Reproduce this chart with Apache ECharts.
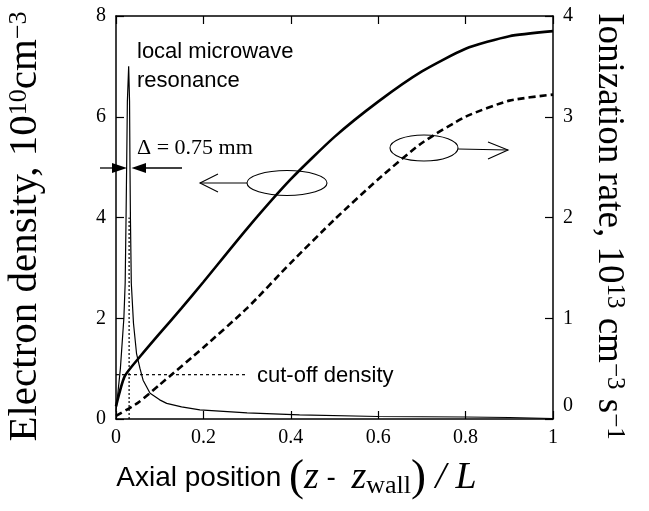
<!DOCTYPE html>
<html>
<head>
<meta charset="utf-8">
<script src="https://cdn.jsdelivr.net/npm/echarts@6/dist/echarts.min.js"></script>
<style>
html, body { margin: 0; padding: 0; background: #fff; }
#chart { width: 649px; height: 511px; }
</style>
</head>
<body>
<div id="chart"></div>
<script>
// electron density (left axis, thick solid)
const densityX = [0, 0.02, 0.055, 0.1, 0.15, 0.2, 0.3, 0.4, 0.5, 0.6, 0.7, 0.8, 0.9, 1.0];
const densityY = [0.25, 0.85, 1.24, 1.7, 2.2, 2.72, 3.78, 4.76, 5.6, 6.3, 6.9, 7.35, 7.6, 7.7];

// ionization rate (right axis, thick dashed)
const ionX = [0, 0.05, 0.1, 0.2, 0.3, 0.4, 0.5, 0.6, 0.7, 0.8, 0.9, 1.0];
const ionY = [0.03, 0.16, 0.34, 0.71, 1.1, 1.55, 1.98, 2.38, 2.74, 3.0, 3.16, 3.22];

// local microwave resonance (left axis, thin solid)
const resX = [0, 0.01, 0.018, 0.021, 0.023, 0.025, 0.026, 0.029, 0.031, 0.032, 0.033, 0.035, 0.04, 0.047, 0.055, 0.062, 0.078, 0.1, 0.116, 0.15, 0.192, 0.3, 0.42, 0.6, 0.8, 0.9, 1.0];
const resY = [0.15, 1.0, 2.0, 2.7, 4.0, 5.5, 6.3, 7.0, 6.3, 5.0, 4.0, 2.7, 1.9, 1.3, 1.0, 0.77, 0.51, 0.38, 0.31, 0.24, 0.18, 0.12, 0.08, 0.05, 0.04, 0.03, 0.01];

// cut-off density level and resonance marker
const cutoffX = [0, 0.3];
const cutoffY = [0.88, 0.88];
const markerX = [0.03, 0.03];
const markerY = [0, 4.0];

const xTicks = [0, 0.2, 0.4, 0.6, 0.8, 1];
const leftTicks = [0, 2, 4, 6, 8];
const rightTicks = [0, 1, 2, 3, 4];

const pairs = (xs, ys) => xs.map((x, i) => [x, ys[i]]);

const serif = 'Liberation Serif';
const sans = 'Liberation Sans';
const black = '#000';

const chart = echarts.init(document.getElementById('chart'));

const frameLine = { onZero: false, lineStyle: { color: black, width: 1.5 } };
const inTick = { show: true, inside: true, length: 8, lineStyle: { color: black, width: 1.2 } };

const option = {
  animation: false,
  backgroundColor: '#fff',
  grid: { left: 116, right: 96, top: 16, bottom: 92, outerBoundsMode: 'none', containLabel: false },
  xAxis: [
    {
      type: 'value', min: 0, max: 1, interval: 0.2,
      axisLine: frameLine,
      axisTick: inTick,
      splitLine: { show: false },
      axisLabel: { color: black, fontFamily: serif, fontSize: 20, margin: 9,
        formatter: v => xTicks.includes(+v.toFixed(1)) ? String(+v.toFixed(1)) : '' },
      name: '{a|Axial position }{p|(}{i|z}{a| -  }{i|z}{sub|wall}{p|)}{i| / L}',
      nameLocation: 'middle', nameGap: 37,
      nameTextStyle: {
        padding: [0, 76, 0, 0],
        rich: {
          a: { fontFamily: sans, fontSize: 28, color: black },
          p: { fontFamily: serif, fontSize: 45, color: black },
          i: { fontFamily: serif, fontStyle: 'italic', fontSize: 38, color: black },
          sub: { fontFamily: serif, fontSize: 26, color: black, padding: [16, 0, 0, 0] }
        }
      }
    },
    {
      type: 'value', min: 0, max: 1, interval: 0.2, position: 'top',
      axisLine: frameLine,
      axisTick: inTick,
      axisLabel: { show: false },
      splitLine: { show: false }
    }
  ],
  yAxis: [
    {
      type: 'value', min: 0, max: 8, interval: 2,
      axisLine: Object.assign({ show: true }, frameLine),
      axisTick: inTick,
      splitLine: { show: false },
      axisLabel: { color: black, fontFamily: serif, fontSize: 20, margin: 10,
        formatter: v => leftTicks.includes(v) ? String(v) : '' },
      name: '{m|Electron density, 10}{s|10}{m|cm}{s2|\u22123}',
      nameLocation: 'middle', nameRotate: 90, nameGap: 70,
      nameTextStyle: {
        padding: [0, 18, 0, 0],
        rich: {
          m: { fontFamily: serif, fontSize: 41, lineHeight: 40, color: black, verticalAlign: 'bottom' },
          s: { fontFamily: serif, fontSize: 26, lineHeight: 26, color: black, verticalAlign: 'top', padding: [0, 0, 18, 0] },
          s2: { fontFamily: serif, fontSize: 26, lineHeight: 26, color: black, verticalAlign: 'top', padding: [0, 0, 24, 0] }
        }
      }
    },
    {
      type: 'value', min: 0, max: 4, interval: 1, position: 'right',
      axisLine: Object.assign({ show: true }, frameLine),
      axisTick: inTick,
      splitLine: { show: false },
      axisLabel: { color: black, fontFamily: serif, fontSize: 20, margin: 10,
        formatter: v => v === 0 ? '{up|0}' : (rightTicks.includes(v) ? String(v) : ''),
        rich: { up: { fontFamily: serif, fontSize: 20, color: black, padding: [0, 0, 26, 0] } } },
      name: '{m|Ionization rate, 10}{s|13}{m| cm}{s|\u22123}{m| s}{s|\u22121}',
      nameLocation: 'middle', nameRotate: -90, nameGap: 33,
      nameTextStyle: {
        padding: [0, 0, 0, 18],
        rich: {
          m: { fontFamily: serif, fontSize: 37, lineHeight: 37, color: black, verticalAlign: 'bottom' },
          s: { fontFamily: serif, fontSize: 25, lineHeight: 25, color: black, verticalAlign: 'top', padding: [0, 0, 18, 0] }
        }
      }
    }
  ],
  series: [
    {
      name: 'Electron density', type: 'line', xAxisIndex: 0, yAxisIndex: 0,
      data: pairs(densityX, densityY), showSymbol: false, symbol: 'none', smooth: 0.2,
      lineStyle: { color: black, width: 2.6 }
    },
    {
      name: 'Ionization rate', type: 'line', xAxisIndex: 0, yAxisIndex: 1,
      data: pairs(ionX, ionY), showSymbol: false, symbol: 'none', smooth: 0.2,
      lineStyle: { color: black, width: 2.6, type: [7, 4] }
    },
    {
      name: 'Resonance', type: 'line', xAxisIndex: 0, yAxisIndex: 0,
      data: pairs(resX, resY), showSymbol: false, symbol: 'none',
      lineStyle: { color: black, width: 1.2 }
    },
    {
      name: 'Cut-off', type: 'line', xAxisIndex: 0, yAxisIndex: 0,
      data: pairs(cutoffX, cutoffY), showSymbol: false, symbol: 'none',
      lineStyle: { color: black, width: 1.2, type: [3, 3] }
    },
    {
      name: 'Marker', type: 'line', xAxisIndex: 0, yAxisIndex: 0,
      data: pairs(markerX, markerY), showSymbol: false, symbol: 'none',
      lineStyle: { color: black, width: 1.2, type: [2, 2] }
    }
  ],
  graphic: [
    { type: 'text', style: { x: 137, y: 52, text: 'local microwave', font: '22px "Liberation Sans"', fill: black, verticalAlign: 'middle' } },
    { type: 'text', style: { x: 137, y: 81, text: 'resonance', font: '22px "Liberation Sans"', fill: black, verticalAlign: 'middle' } },
    { type: 'text', style: { x: 137, y: 148, text: '\u0394 = 0.75 mm', font: '22px "Liberation Serif"', fill: black, verticalAlign: 'middle' } },
    { type: 'text', style: { x: 257, y: 376, text: 'cut-off density', font: '22px "Liberation Sans"', fill: black, verticalAlign: 'middle' } },
    // delta arrows
    { type: 'line', shape: { x1: 100, y1: 168, x2: 124, y2: 168 }, style: { stroke: black, lineWidth: 1.3 } },
    { type: 'polygon', shape: { points: [[127, 168], [112, 163], [112, 173]] }, style: { fill: black } },
    { type: 'polygon', shape: { points: [[131.5, 168], [146, 163], [146, 173]] }, style: { fill: black } },
    { type: 'line', shape: { x1: 144, y1: 168, x2: 182, y2: 168 }, style: { stroke: black, lineWidth: 1.3 } },
    // left ellipse and arrow
    { type: 'ellipse', shape: { cx: 287, cy: 183, rx: 40, ry: 12.5 }, style: { fill: 'none', stroke: black, lineWidth: 1.1 } },
    { type: 'polyline', shape: { points: [[247, 183], [200, 183]] }, style: { stroke: black, lineWidth: 1.1, fill: 'none' } },
    { type: 'polyline', shape: { points: [[218, 174], [200, 183], [218, 192]] }, style: { stroke: black, lineWidth: 1.1, fill: 'none' } },
    // right ellipse and arrow
    { type: 'ellipse', shape: { cx: 424, cy: 148, rx: 34, ry: 13 }, style: { fill: 'none', stroke: black, lineWidth: 1.1 } },
    { type: 'polyline', shape: { points: [[458, 149], [508, 150]] }, style: { stroke: black, lineWidth: 1.1, fill: 'none' } },
    { type: 'polyline', shape: { points: [[488, 142], [508, 150], [488, 159]] }, style: { stroke: black, lineWidth: 1.1, fill: 'none' } }
  ]
};

chart.setOption(option);
</script>
</body>
</html>
